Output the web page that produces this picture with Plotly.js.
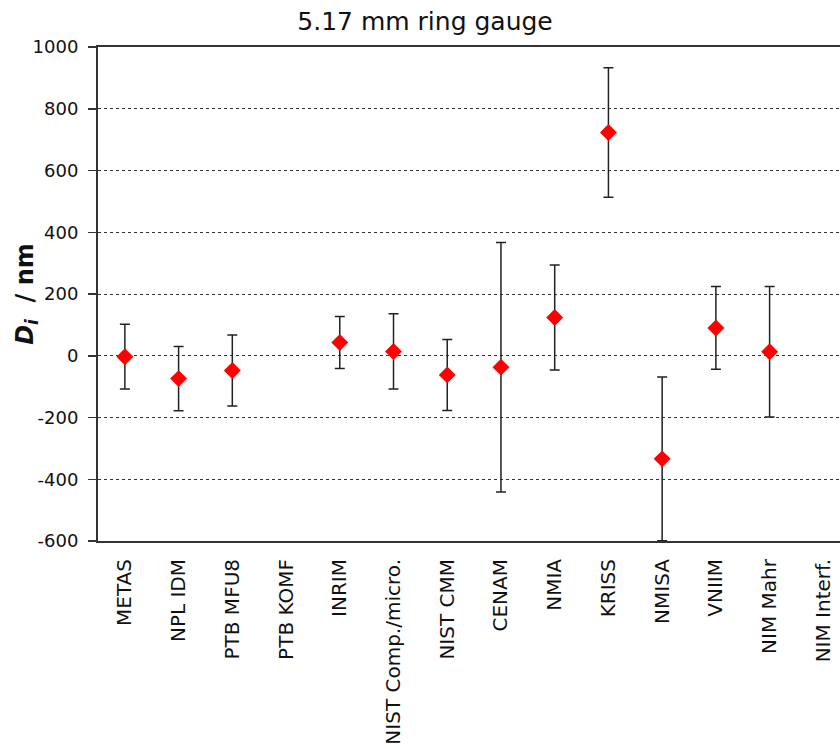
<!DOCTYPE html>
<html>
<head>
<meta charset="utf-8">
<script src="https://cdn.plot.ly/plotly-3.0.1.min.js"></script>
<style>
  html, body { margin: 0; padding: 0; background: #ffffff; overflow: hidden; }
  #chart { width: 840px; height: 749px; }
</style>
</head>
<body>
<div id="chart"></div>
<script>
// Data
var categories = ["METAS", "NPL IDM", "PTB MFU8", "PTB KOMF", "INRIM", "NIST Comp./micro.",
                  "NIST CMM", "CENAM", "NMIA", "KRISS", "NMISA", "VNIIM", "NIM Mahr", "NIM Interf."];
var values = [-3, -74, -48, null, 43, 14, -62, -37, 124, 723, -334, 90, 13, null];
var uncertainties = [105, 104, 115, null, 84, 122, 115, 404, 170, 210, 265, 134, 211, null];
var yTicks = [-600, -400, -200, 0, 200, 400, 600, 800, 1000];

var nCat = categories.length;
var xRange = [-0.5, 13.31];
var boundaryTicks = [];
for (var i = 1; i < nCat; i++) boundaryTicks.push(i - 0.5);

var trace = {
  type: "scatter",
  mode: "markers",
  x: categories,
  y: values,
  marker: { symbol: "diamond", size: 13, color: "#ff0000", line: { width: 0 } },
  error_y: { type: "data", array: uncertainties, visible: true, color: "#222222", thickness: 1.5, width: 5 },
  cliponaxis: true,
  hoverinfo: "x+y"
};

var layout = {
  width: 840,
  height: 749,
  margin: { l: 98, r: 0, t: 47, b: 208 },
  paper_bgcolor: "#ffffff",
  plot_bgcolor: "#ffffff",
  showlegend: false,
  font: { family: "DejaVu Sans, Verdana, sans-serif", color: "#111111" },
  title: {
    text: "5.17 mm ring gauge",
    font: { family: "DejaVu Sans, Verdana, sans-serif", size: 25, color: "#111111" },
    x: 0.506, xref: "container", xanchor: "center",
    y: 0.971, yref: "container", yanchor: "middle"
  },
  xaxis: {
    type: "category",
    categoryorder: "array",
    categoryarray: categories,
    range: xRange,
    showgrid: false,
    zeroline: false,
    showline: true,
    linecolor: "#333333",
    linewidth: 2,
    mirror: true,
    ticks: "",
    tickangle: -90,
    ticklabelstandoff: 8,
    tickfont: { family: "DejaVu Sans, Verdana, sans-serif", size: 20, color: "#111111" },
    fixedrange: true
  },
  xaxis2: {
    type: "linear",
    overlaying: "x",
    anchor: "free",
    position: 0.375,
    side: "bottom",
    range: xRange,
    showgrid: false,
    zeroline: false,
    showline: true,
    linecolor: "#111111",
    linewidth: 1.5,
    ticks: "outside",
    ticklen: 5,
    tickwidth: 1.5,
    tickcolor: "#111111",
    tickmode: "array",
    tickvals: boundaryTicks,
    showticklabels: false,
    layer: "below traces",
    fixedrange: true
  },
  yaxis: {
    range: [-600, 1000],
    tickmode: "array",
    tickvals: yTicks,
    ticktext: yTicks.map(String),
    showline: true,
    linecolor: "#333333",
    linewidth: 2,
    ticks: "outside",
    ticklen: 8,
    tickwidth: 1.5,
    tickcolor: "#333333",
    ticklabelstandoff: 6,
    tickfont: { family: "DejaVu Sans, Verdana, sans-serif", size: 18, color: "#111111" },
    showgrid: true,
    gridcolor: "#333333",
    gridwidth: 1,
    griddash: "3px,3px",
    zeroline: false,
    title: {
      text: "<b><i>D</i><sub><i>i</i></sub>  / nm</b>",
      font: { family: "DejaVu Sans, Verdana, sans-serif", size: 24, color: "#111111" }
    },
    fixedrange: true
  }
};

Plotly.newPlot("chart", [trace], layout, { displayModeBar: false, staticPlot: true });
</script>
</body>
</html>
